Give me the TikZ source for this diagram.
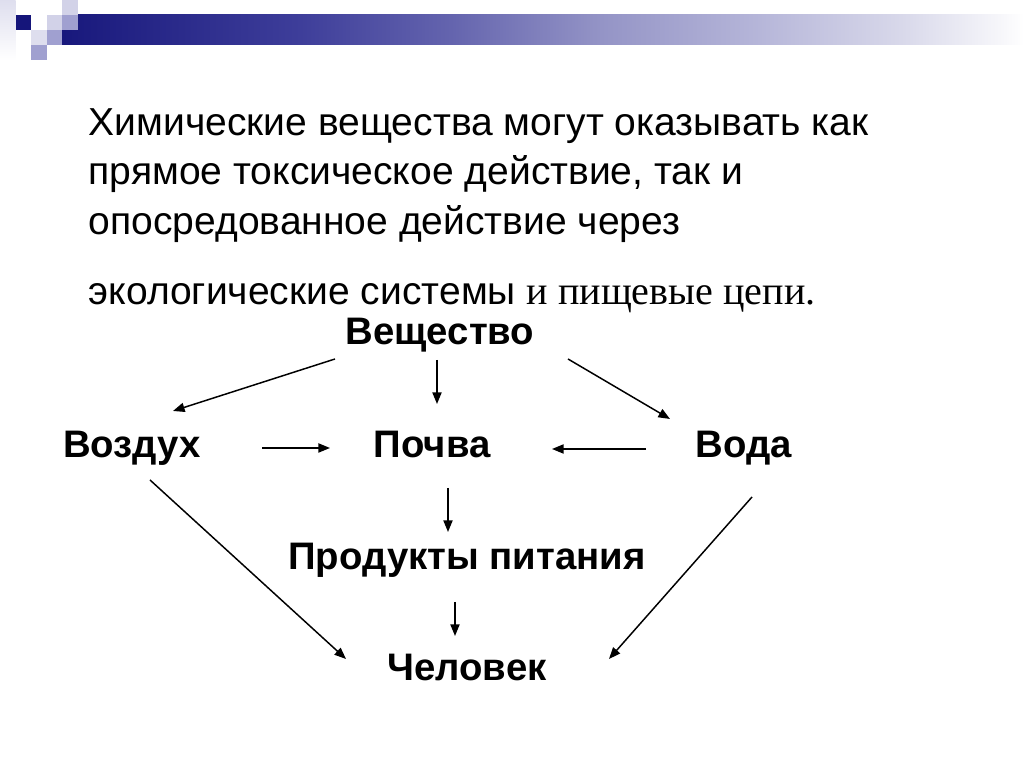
\documentclass[tikz,border=0pt]{standalone}
\usepackage{fontspec}
\setmainfont{Liberation Sans}
\newfontfamily\timesf{Liberation Serif}
\usetikzlibrary{arrows.meta}
\definecolor{c0}{HTML}{18187C}
\definecolor{c1}{HTML}{3E3E9A}
\definecolor{c2}{HTML}{6464AE}
\definecolor{c3}{HTML}{9494C6}
\definecolor{c4}{HTML}{B4B4D8}
\definecolor{c5}{HTML}{D8D8EA}
\definecolor{c6}{HTML}{F6F6FA}
\definecolor{sqnavy}{HTML}{15157A}
\definecolor{sqlight}{HTML}{D2D2E8}
\definecolor{sqmed}{HTML}{A0A0D0}
\definecolor{sqfaint}{HTML}{DEDEEE}
\pgfdeclarehorizontalshading{barshade}{100bp}{color(0bp)=(c0); color(25bp)=(c0); color(37.4bp)=(c1); color(45.2bp)=(c2); color(53bp)=(c3); color(60.8bp)=(c4); color(68.6bp)=(c5); color(73.7bp)=(c6); color(75bp)=(white); color(100bp)=(white)}
\tikzset{
  titletext/.style={anchor=base west, inner sep=0pt, font=\fontsize{11.1pt}{13pt}\selectfont},
  lbl/.style={anchor=base, inner sep=0pt, font=\fontsize{10.9pt}{13pt}\selectfont\bfseries},
  arr/.style={line width=0.42pt, -{Triangle[length=3.3pt,width=2.6pt]}},
}
\begin{document}
\begin{tikzpicture}[x=0.01cm,y=-0.01cm]
\useasboundingbox (0,0) rectangle (1024,768);
\fill[white] (0,0) rectangle (1024,768);
% header decoration
\shade[left color=sqfaint, right color=white, shading angle=0] (0,0) rectangle (15.5,60);
\fill[shading=barshade] (62,15) rectangle (1024,45);
\fill[sqlight] (62,0) rectangle (77.5,15);
\fill[sqnavy] (15.5,15) rectangle (31,30);
\fill[sqlight] (46.5,15) rectangle (62,30);
\fill[sqmed] (62,15) rectangle (77.5,30);
\fill[sqfaint] (31,30) rectangle (46.5,45);
\fill[sqmed] (46.5,30) rectangle (62,45);
\fill[sqmed] (31,45) rectangle (46.5,60);
% title text
\node[titletext] (t1) at (88,136) {Химические вещества могут оказывать как};
\node[titletext] (t2) at (88,185) {прямое токсическое действие, так и};
\node[titletext] (t3) at (88,235) {опосредованное действие через};
\node[titletext] (t4) at (88,305) {экологические системы {\timesf\fontsize{11.4pt}{13pt}\selectfont и пищевые цепи.}};
% diagram nodes
\node[lbl] (vesch) at (440,345) {Вещество};
\node[lbl] (vozd) at (132,458) {Воздух};
\node[lbl] (pochva) at (432,458) {Почва};
\node[lbl] (voda) at (744,458) {Вода};
\node[lbl] (prod) at (467,570) {Продукты питания};
\node[lbl] (chel) at (467,681) {Человек};
% connector end points
\coordinate (a1s) at (335,359); \coordinate (a1e) at (173,411);
\coordinate (a2s) at (437,360); \coordinate (a2e) at (437,404);
\coordinate (a3s) at (568,359); \coordinate (a3e) at (670,419);
\coordinate (a4s) at (262,448); \coordinate (a4e) at (330,448);
\coordinate (a5s) at (646,449); \coordinate (a5e) at (552,449);
\coordinate (a6s) at (448,488); \coordinate (a6e) at (448,532);
\coordinate (a7s) at (455,602); \coordinate (a7e) at (455,636);
\coordinate (a8s) at (150,480); \coordinate (a8e) at (346,659);
\coordinate (a9s) at (752,497); \coordinate (a9e) at (609,659);
\draw[arr] (a1s) -- (a1e);
\draw[arr] (a2s) -- (a2e);
\draw[arr] (a3s) -- (a3e);
\draw[arr] (a4s) -- (a4e);
\draw[arr] (a5s) -- (a5e);
\draw[arr] (a6s) -- (a6e);
\draw[arr] (a7s) -- (a7e);
\draw[arr] (a8s) -- (a8e);
\draw[arr] (a9s) -- (a9e);
\end{tikzpicture}
\end{document}
